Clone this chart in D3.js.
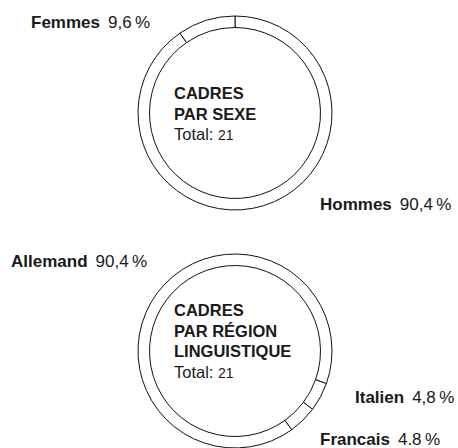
<!DOCTYPE html>
<html>
<head>
<meta charset="utf-8">
<script src="https://cdn.jsdelivr.net/npm/d3@7"></script>
<style>
  body { margin: 0; background: #fff; }
  svg text { font-family: "Liberation Sans", Arial, sans-serif; fill: #1a1a1a; }
</style>
</head>
<body>
<div id="chart"></div>
<script>
// données
const sexeLabels = ["Hommes", "Femmes"];
const sexeValues = [90.4, 9.6];
const sexeText = ["90,4\u2009%", "9,6\u2009%"];

const regionLabels = ["Allemand", "Italien", "Francais"];
const regionValues = [90.4, 4.8, 4.8];
const regionText = ["90,4\u2009%", "4,8\u2009%", "4.8\u2009%"];

const total = 21;

const width = 458, height = 448;
const outerR = 97, innerR = 85.5;

const svg = d3.select("#chart")
  .append("svg")
  .attr("width", width)
  .attr("height", height);

const arc = d3.arc().innerRadius(innerR).outerRadius(outerR);

function donut(cfg) {
  const pie = d3.pie().sort(null).value(d => d.value)
    .startAngle(cfg.start * Math.PI / 180)
    .endAngle(cfg.start * Math.PI / 180 + 2 * Math.PI);
  const data = cfg.labels.map((l, i) => ({ label: l, value: cfg.values[i], text: cfg.texts[i] }));

  const g = svg.append("g").attr("transform", `translate(${cfg.cx}, ${cfg.cy})`);

  g.selectAll("path")
    .data(pie(data))
    .enter()
    .append("path")
    .attr("d", arc)
    .attr("fill", "#fff")
    .attr("stroke", "#111")
    .attr("stroke-width", 1);

  // texte central
  const t = g.append("text");
  cfg.title.forEach((line, i) => {
    t.append("tspan")
      .attr("x", -61)
      .attr("y", cfg.titleY + i * 20.5)
      .style("font-weight", "bold")
      .style("font-size", "16.5px")
      .text(line);
  });
  const tot = g.append("text")
    .attr("x", -61)
    .attr("y", cfg.titleY + cfg.title.length * 20.5)
    .style("font-size", "16.5px");
  tot.append("tspan").text("Total: ");
  tot.append("tspan").style("font-size", "14px").text(total);

  // étiquettes
  data.forEach((d, i) => {
    const p = cfg.labelPos[i];
    const lt = svg.append("text")
      .attr("x", p[0])
      .attr("y", p[1])
      .style("font-size", "17px");
    lt.append("tspan").style("font-weight", "bold").text(d.label);
    lt.append("tspan").attr("dx", 8).text(d.text);
  });
}

donut({
  cx: 235, cy: 113, start: 0,
  labels: sexeLabels, values: sexeValues, texts: sexeText,
  title: ["CADRES", "PAR SEXE"], titleY: -14,
  labelPos: [[320, 210], [31, 28]]
});

donut({
  cx: 235, cy: 351, start: 144.2,
  labels: regionLabels, values: regionValues, texts: regionText,
  title: ["CADRES", "PAR RÉGION", "LINGUISTIQUE"], titleY: -35,
  labelPos: [[11, 267], [355, 403], [320, 445]]
});
</script>
</body>
</html>
